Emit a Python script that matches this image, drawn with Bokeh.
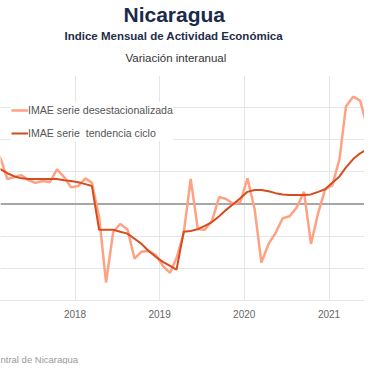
import pandas as pd
from bokeh.plotting import figure
from bokeh.models import Span, Title, Legend, LegendItem, FixedTicker, DatetimeTickFormatter, Range1d, ColumnDataSource
from bokeh.embed import file_html
from bokeh.resources import INLINE

# ---- data (monthly, year-on-year % change) ----
first_month = "2017-01"
last_month = "2021-08"
desestacionalizada = [
    9.0, 7.0, 3.9, 4.2, 4.5, 3.7, 3.3, 3.6, 3.4, 5.4, 4.2, 2.6,      # 2017
    2.8, 4.0, 3.3, -2.0, -12.2, -4.3, -3.1, -3.9, -8.5, -7.4, -7.3, -7.9,  # 2018
    -9.6, -10.7, -8.4, -4.5, 3.9, -3.9, -4.0, -2.6, 1.1, 0.8, 0.0, 0.3,    # 2019
    4.0, -0.8, -9.1, -6.2, -4.5, -2.2, -1.9, -0.5, 1.9, -6.2, -1.4, 2.3,   # 2020
    2.9, 7.0, 15.2, 16.7, 16.1, 11.9, 11.1, 8.5,                          # 2021
]
tendencia_ciclo = [
    5.9, 5.4, 4.8, 4.3, 4.0, 3.9, 3.9, 3.9, 3.9, 3.9, 3.7, 3.6,
    3.4, 3.1, 2.8, -4.0, -4.0, -4.0, -4.3, -4.6, -5.4, -6.2, -7.3, -8.2,
    -9.0, -9.6, -10.2, -4.3, -4.2, -3.9, -3.4, -2.8, -1.9, -0.9, 0.0, 0.9,
    1.9, 2.2, 2.2, 2.0, 1.7, 1.5, 1.4, 1.4, 1.4, 1.5, 1.9, 2.3,
    3.3, 4.3, 5.7, 7.0, 7.9, 8.5, 8.4, 8.0,
]
year_ticks = ["2018", "2019", "2020", "2021"]
y_ticks = [-15, -10, -5, 0, 5, 10, 15, 20]

title_text = "Nicaragua"
subtitle_text = "Indice Mensual de  Actividad Económica"
subsubtitle_text = "Variación interanual"
credits_text = "ntral de Nicaragua"
series_names = ["IMAE serie desestacionalizada", "IMAE serie  tendencia ciclo"]

dates = pd.date_range(first_month + "-01", last_month + "-01", freq="MS") + pd.Timedelta(days=14)
src = ColumnDataSource(dict(date=dates, des=desestacionalizada, tend=tendencia_ciclo))

# ---- layout ----
W, H = 364, 364
y2018 = pd.Timestamp("2018-01-01")
px_per_day = 84.67 / 365.25
x_start = y2018 - pd.Timedelta(days=74.5 / px_per_day)
x_end = y2018 + pd.Timedelta(days=(W - 74.5) / px_per_day)

FONT = "Liberation Sans"

def pad(top=0, bottom=0, left=0, right=0):
    return dict(left=left, right=right, top=top, bottom=bottom)

p = figure(width=W, height=H, output_backend="svg", toolbar_location=None,
           x_axis_type="datetime", y_axis_location=None,
           x_range=Range1d(x_start.to_pydatetime(), x_end.to_pydatetime()),
           y_range=Range1d(y_ticks[0], y_ticks[-1]),
           min_border_left=0, min_border_right=0, min_border_top=75, min_border_bottom=64)
p.outline_line_color = None
p.background_fill_color = "white"
p.border_fill_color = "white"

tick_ms = [pd.Timestamp(t + "-01-01").value // 10**6 for t in year_ticks]
p.xaxis.ticker = FixedTicker(ticks=tick_ms)
p.xaxis.formatter = DatetimeTickFormatter(years="%Y", months="%Y", days="%Y", hours="%Y")
p.xaxis.axis_line_color = "#e6e6e6"
p.xaxis.major_tick_line_color = None
p.xaxis.minor_tick_line_color = None
p.xaxis.major_tick_out = 0
p.xaxis.major_tick_in = 0
p.xaxis.major_label_standoff = 9
p.xaxis.major_label_text_font = FONT
p.xaxis.major_label_text_font_size = "10px"
p.xaxis.major_label_text_color = "#666666"

p.xgrid.ticker = FixedTicker(ticks=tick_ms)
p.xgrid.grid_line_color = "#e6e6e6"
p.ygrid.ticker = FixedTicker(ticks=y_ticks)
p.ygrid.grid_line_color = "#e6e6e6"

p.add_layout(Span(location=0, dimension="width", line_color="#a6a6a6", line_width=2, level="underlay"))

r1 = p.line("date", "des", source=src, line_color="#ffa284", line_width=2.5)
r2 = p.line("date", "tend", source=src, line_color="#d64c1e", line_width=2)

legend = Legend(items=[LegendItem(label=series_names[0], renderers=[r1]),
                       LegendItem(label=series_names[1], renderers=[r2])],
                location=(11, 159), orientation="vertical",
                glyph_width=17, glyph_height=16, label_height=16, label_standoff=0,
                spacing=7, padding=4, margin=0,
                border_line_color=None, background_fill_color="white", background_fill_alpha=1,
                label_text_font=FONT, label_text_font_size="10.6px", label_text_color="#555555")
p.add_layout(legend)

# titles (first added 'above' is nearest the plot; p.title is outermost)
p.title.text = title_text
p.title.text_font = FONT
p.title.text_font_size = "21px"
p.title.text_font_style = "bold"
p.title.text_color = "#1b2a4a"
p.title.align = "left"
p.title.offset = 123
p.title.standoff = 0
p.title.padding = pad(bottom=2)

p.add_layout(Title(text=subsubtitle_text, text_font=FONT, text_font_size="11.5px",
                   text_font_style="normal", text_color="#333333", align="left",
                   offset=125, standoff=0, padding=pad(bottom=12)), "above")
p.add_layout(Title(text=subtitle_text, text_font=FONT, text_font_size="11.5px",
                   text_font_style="bold", text_color="#1f2d4a", align="left",
                   offset=64, standoff=0, padding=pad(bottom=8)), "above")

p.add_layout(Title(text=credits_text, text_font=FONT, text_font_size="9.5px",
                   text_font_style="normal", text_color="#999999", align="left",
                   offset=0, standoff=0, padding=pad(top=31)), "below")

open("out.html", "w").write(file_html(p, INLINE))
